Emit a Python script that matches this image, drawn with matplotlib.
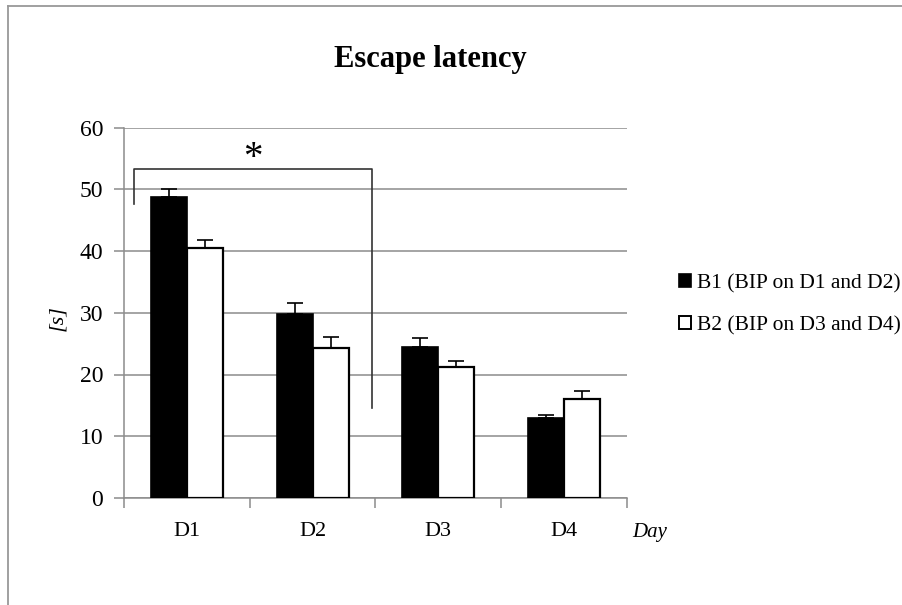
import matplotlib
matplotlib.use("Agg")
import matplotlib.pyplot as plt
import numpy as np
from matplotlib.lines import Line2D
from matplotlib.patches import Patch

days = ["D1", "D2", "D3", "D4"]
series_labels = ["B1 (BIP on D1 and D2)", "B2 (BIP on D3 and D4)"]
b1_values = [48.8, 29.8, 24.5, 12.9]
b1_errors = [1.2, 1.8, 1.4, 0.5]
b2_values = [40.5, 24.3, 21.2, 16.1]
b2_errors = [1.3, 1.7, 1.0, 1.3]
y_ticks = [0, 10, 20, 30, 40, 50, 60]

plt.rcParams['font.family'] = ['Liberation Serif', 'DejaVu Serif']

fig = plt.figure(figsize=(9.03, 6.05), dpi=100)
ax = fig.add_axes([124/903, 1-498/605, 503/903, 370.5/605])

x = np.arange(len(days))
w = 0.286
grid_c = '#8c8c8c'

ax.set_ylim(0, 60)
ax.set_xlim(-0.5, 3.5)
ax.set_yticks(y_ticks)
ax.yaxis.grid(True, color=grid_c, linewidth=1.1, zorder=0)
ax.set_axisbelow(True)

ax.bar(x - w/2, b1_values, w, color='black', edgecolor='black', linewidth=1.2, zorder=3,
       label=series_labels[0])
ax.bar(x + w/2, b2_values, w, color='white', edgecolor='black', linewidth=1.6, zorder=3,
       label=series_labels[1])
ax.errorbar(x - w/2, b1_values, yerr=[np.zeros(4), b1_errors], fmt='none', ecolor='black',
            elinewidth=1.2, capsize=5.5, capthick=1.2, zorder=4)
ax.errorbar(x + w/2, b2_values, yerr=[np.zeros(4), b2_errors], fmt='none', ecolor='black',
            elinewidth=1.2, capsize=5.5, capthick=1.2, zorder=4)

# significance bracket
bx = [-0.42, -0.42, 1.47, 1.47]
by = [47.6, 53.3, 53.3, 14.6]
ax.plot(bx, by, color='#333333', linewidth=1.2, zorder=5)
ax.text(0.526, 55.0, "*", fontsize=28, ha='center', va='center', zorder=5)

for s in ['top', 'right']:
    ax.spines[s].set_visible(False)
for s in ['left', 'bottom']:
    ax.spines[s].set_color(grid_c)
    ax.spines[s].set_linewidth(1.1)

ax.set_xticks(x)
ax.set_xticklabels(days, fontsize=16)
ax.set_xticks(np.arange(-0.5, 4.0, 1.0), minor=True)
ax.tick_params(axis='x', which='major', length=0, pad=17)
ax.tick_params(axis='x', which='minor', length=7, color=grid_c, width=1.1)
ax.tick_params(axis='y', length=7, color=grid_c, width=1.1, labelsize=17, pad=8)

fig.text(430/903, 1-60/605, "Escape latency", fontsize=22, fontweight='bold',
         ha='center', va='center')
fig.text(58/903, 1-318/605, "[s]", fontsize=16, style='italic', rotation=90,
         ha='center', va='center')
fig.text(632/903, 1-532/605, "Day", fontsize=15, style='italic', ha='left', va='center')

handles = [Patch(facecolor='black', edgecolor='black', linewidth=1.2),
           Patch(facecolor='white', edgecolor='black', linewidth=1.4)]
fig.legend(handles, series_labels, loc='center left',
           bbox_to_anchor=(679/903, 1-304.5/605), frameon=False, fontsize=15.5,
           handlelength=0.55, handleheight=0.55, handletextpad=0.3, labelspacing=1.05,
           borderaxespad=0, borderpad=0)

# outer chart frame (left and top edges visible)
fig.add_artist(Line2D([8/903, 8/903], [0, 1-6/605], color='#999999', linewidth=1.3,
                      transform=fig.transFigure))
fig.add_artist(Line2D([8/903, 1], [1-6/605, 1-6/605], color='#999999', linewidth=1.3,
                      transform=fig.transFigure))

fig.savefig("out.png", dpi=100)
